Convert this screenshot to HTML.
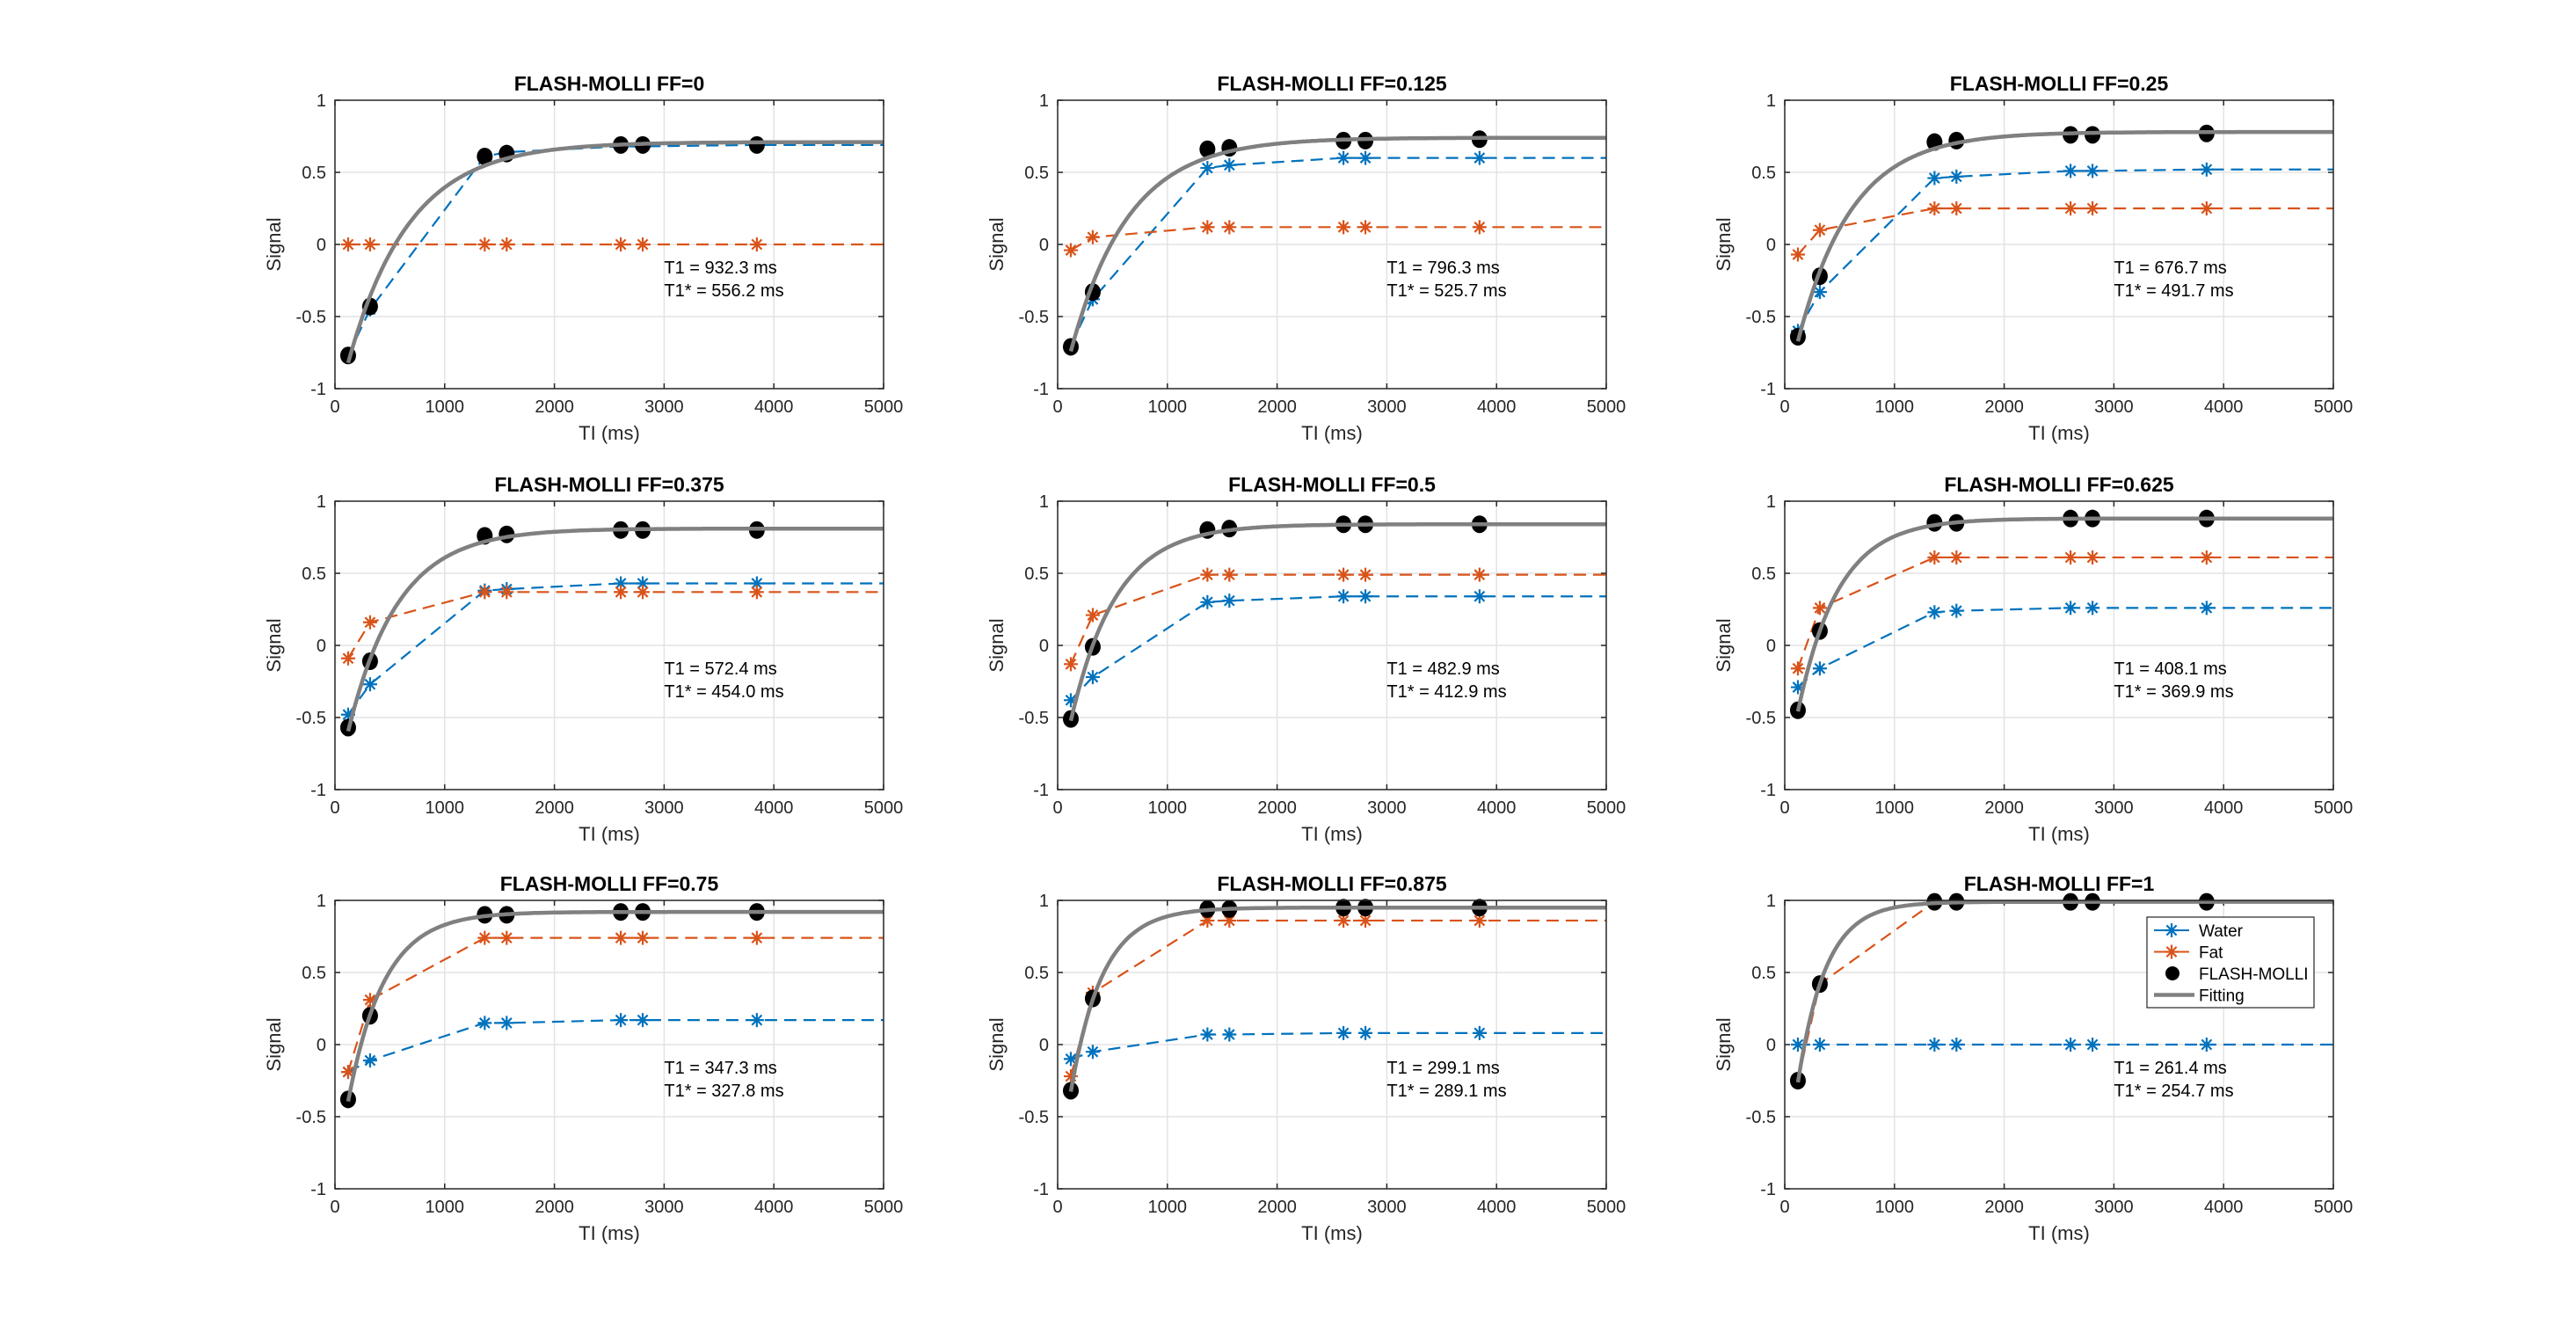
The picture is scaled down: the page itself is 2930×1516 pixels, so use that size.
<!DOCTYPE html>
<html><head><meta charset="utf-8"><style>
html,body{margin:0;padding:0;background:#fff;}
svg{display:block;font-family:"Liberation Sans","DejaVu Sans",sans-serif;}
</style></head><body>
<svg id="fig" width="2930" height="1516" viewBox="0 0 2930 1516" xmlns="http://www.w3.org/2000/svg"></svg>
<script>
const TI = [120, 320, 1365, 1565, 2605, 2805, 3845];
const titles = ["FLASH-MOLLI FF=0","FLASH-MOLLI FF=0.125","FLASH-MOLLI FF=0.25","FLASH-MOLLI FF=0.375","FLASH-MOLLI FF=0.5","FLASH-MOLLI FF=0.625","FLASH-MOLLI FF=0.75","FLASH-MOLLI FF=0.875","FLASH-MOLLI FF=1"];
const water = [
 [-0.77,-0.45,0.61,0.64,0.68,0.68,0.69],
 [-0.70,-0.38,0.53,0.55,0.60,0.60,0.60],
 [-0.60,-0.33,0.46,0.47,0.51,0.51,0.52],
 [-0.48,-0.27,0.38,0.39,0.43,0.43,0.43],
 [-0.38,-0.22,0.30,0.31,0.34,0.34,0.34],
 [-0.29,-0.16,0.23,0.24,0.26,0.26,0.26],
 [-0.19,-0.11,0.15,0.15,0.17,0.17,0.17],
 [-0.10,-0.05,0.07,0.07,0.08,0.08,0.08],
 [0,0,0,0,0,0,0]];
const fat = [
 [0,0,0,0,0,0,0],
 [-0.04,0.05,0.12,0.12,0.12,0.12,0.12],
 [-0.07,0.10,0.25,0.25,0.25,0.25,0.25],
 [-0.09,0.16,0.37,0.37,0.37,0.37,0.37],
 [-0.13,0.21,0.49,0.49,0.49,0.49,0.49],
 [-0.16,0.26,0.61,0.61,0.61,0.61,0.61],
 [-0.19,0.31,0.74,0.74,0.74,0.74,0.74],
 [-0.22,0.36,0.86,0.86,0.86,0.86,0.86],
 [-0.25,0.42,0.99,0.99,0.99,0.99,0.99]];
const flash = [
 [-0.77,-0.43,0.61,0.63,0.69,0.69,0.69],
 [-0.71,-0.33,0.66,0.67,0.72,0.72,0.73],
 [-0.64,-0.22,0.71,0.72,0.76,0.76,0.77],
 [-0.57,-0.11,0.76,0.77,0.80,0.80,0.80],
 [-0.51,-0.01,0.80,0.81,0.84,0.84,0.84],
 [-0.45,0.10,0.85,0.85,0.88,0.88,0.88],
 [-0.38,0.20,0.90,0.90,0.92,0.92,0.92],
 [-0.32,0.32,0.94,0.94,0.95,0.95,0.95],
 [-0.25,0.42,0.99,0.99,0.99,0.99,0.99]];
const plateau = [0.71,0.74,0.78,0.81,0.84,0.88,0.92,0.95,0.99];
const t1 = [932.3,796.3,676.7,572.4,482.9,408.1,347.3,299.1,261.4];
const t1star = [556.2,525.7,491.7,454.0,412.9,369.9,327.8,289.1,254.7];
const xTicks = [0,1000,2000,3000,4000,5000];
const yTicks = [-1,-0.5,0,0.5,1];
const yTickLabels = ["-1","-0.5","0","0.5","1"];

const NS="http://www.w3.org/2000/svg";
const svg=document.getElementById('fig');
function mk(tag,attrs,parent){const e=document.createElementNS(NS,tag);for(const k in attrs)e.setAttribute(k,attrs[k]);(parent||svg).appendChild(e);return e;}
const colX=[381,1203,2030], rowY=[114,570,1024], W=624, H=328;
const BLUE="#0072BD", ORANGE="#D95319";

function star(g,x,y,c){
  const r=8;
  mk('path',{d:`M${x-r},${y}H${x+r}M${x},${y-r}V${y+r}M${x-r*0.7},${y-r*0.7}L${x+r*0.7},${y+r*0.7}M${x-r*0.7},${y+r*0.7}L${x+r*0.7},${y-r*0.7}`,stroke:c,'stroke-width':2.2,fill:'none'},g);
}

for(let i=0;i<9;i++){
  const x0=colX[i%3], y0=rowY[Math.floor(i/3)];
  const sx=v=>x0+v/5000*W, sy=v=>y0+(1-v)/2*H;
  const g=mk('g',{});
  
  
  xTicks.forEach(t=>{if(t>0&&t<5000)mk('line',{x1:sx(t),x2:sx(t),y1:y0,y2:y0+H,stroke:'#e3e3e3','stroke-width':1.5},g);});
  yTicks.forEach(t=>{if(t>-1&&t<1)mk('line',{x1:x0,x2:x0+W,y1:sy(t),y2:sy(t),stroke:'#e3e3e3','stroke-width':1.5},g);});
  xTicks.forEach(t=>{
    mk('line',{x1:sx(t),x2:sx(t),y1:y0+H,y2:y0+H-6,stroke:'#262626','stroke-width':1.5},g);
    mk('line',{x1:sx(t),x2:sx(t),y1:y0,y2:y0+6,stroke:'#262626','stroke-width':1.5},g);
    const tx=mk('text',{x:sx(t),y:y0+H+27,'text-anchor':'middle','font-size':20,fill:'#262626'},g);tx.textContent=t;
    
    
  });
  yTicks.forEach((t,k)=>{
    mk('line',{x1:x0,x2:x0+6,y1:sy(t),y2:sy(t),stroke:'#262626','stroke-width':1.5},g);
    mk('line',{x1:x0+W,x2:x0+W-6,y1:sy(t),y2:sy(t),stroke:'#262626','stroke-width':1.5},g);
    const tx=mk('text',{x:x0-10,y:sy(t)+7,'text-anchor':'end','font-size':20,fill:'#262626'},g);tx.textContent=yTickLabels[k];
    
    
  });
  const path=arr=>arr.map((v,k)=>(k?'L':'M')+sx(TI[k])+','+sy(v)).join('')+'L'+sx(5000)+','+sy(arr[arr.length-1]);
  const wl=mk('path',{d:path(water[i]),stroke:BLUE,'stroke-width':2.2,fill:'none','stroke-dasharray':'14,8'},g);
  
  
  const fl=mk('path',{d:path(fat[i]),stroke:ORANGE,'stroke-width':2.2,fill:'none','stroke-dasharray':'14,8'},g);
  
  
  water[i].forEach((v,k)=>star(g,sx(TI[k]),sy(v),BLUE));
  fat[i].forEach((v,k)=>star(g,sx(TI[k]),sy(v),ORANGE));
  flash[i].forEach((v,k)=>{
    const c=mk('ellipse',{cx:sx(TI[k]),cy:sy(v),rx:9,ry:10,fill:'#000'},g);
    
    
  });
  const A=plateau[i], B=A*(t1[i]/t1star[i]+1);
  let d='';
  for(let t=120;t<=5000;t+=20){const v=A-B*Math.exp(-t/t1star[i]);d+=(d?'L':'M')+sx(t).toFixed(1)+','+sy(Math.max(-1,v)).toFixed(1);}
  const fc=mk('path',{d:d,stroke:'#808080','stroke-width':4.5,fill:'none'},g);
  
  
  mk('rect',{x:x0,y:y0,width:W,height:H,fill:'none',stroke:'#262626','stroke-width':1.5},g);
  const a1=mk('text',{x:sx(3000),y:sy(-0.2),'font-size':20,fill:'#000'},g);a1.textContent='T1 = '+t1[i].toFixed(1)+' ms';
  
  
  const a2=mk('text',{x:sx(3000),y:sy(-0.36),'font-size':20,fill:'#000'},g);a2.textContent='T1* = '+t1star[i].toFixed(1)+' ms';
  
  
  const ti=mk('text',{x:x0+W/2,y:y0-11,'text-anchor':'middle','font-size':23,'font-weight':'bold',fill:'#000'},g);ti.textContent=titles[i];
  
  
  const xl=mk('text',{x:x0+W/2,y:y0+H+58,'text-anchor':'middle','font-size':22,fill:'#262626'},g);xl.textContent='TI (ms)';
  
  
  const yl=mk('text',{x:0,y:0,'text-anchor':'middle','font-size':22,fill:'#262626',transform:`translate(${x0-62},${y0+H/2}) rotate(-90)`},g);yl.textContent='Signal';
  
  
}
const lg=mk('g',{});


mk('rect',{x:2442,y:1043,width:190,height:103,fill:'#fff',stroke:'#262626','stroke-width':1.2},lg);
const items=[['Water',BLUE,'star'],['Fat',ORANGE,'star'],['FLASH-MOLLI','#000','dot'],['Fitting','#808080','line']];
items.forEach((it,k)=>{
  const y=1058+k*24.5;
  if(it[2]==='star'){mk('line',{x1:2450,x2:2490,y1:y,y2:y,stroke:it[1],'stroke-width':2},lg);star(lg,2470,y,it[1]);}
  else if(it[2]==='dot'){mk('circle',{cx:2471,cy:y,r:8,fill:'#000'},lg);}
  else mk('line',{x1:2450,x2:2496,y1:y,y2:y,stroke:it[1],'stroke-width':4.5},lg);
  const t=mk('text',{x:2501,y:y+7,'font-size':19,fill:'#000'},lg);t.textContent=it[0];
  
  
});
</script>
</body></html>
